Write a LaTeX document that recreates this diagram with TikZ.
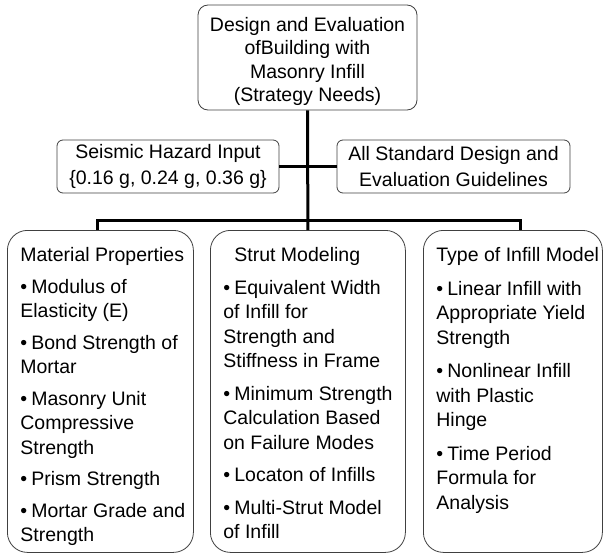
\documentclass[tikz,border=0pt]{standalone}
\usepackage{fontspec}
\setmainfont{Liberation Sans}
\usetikzlibrary{positioning}
\newlength{\colgap}
\newcommand{\bitem}[1]{\par\vspace{\colgap}\noindent\hangindent=11pt\hangafter=1\makebox[11pt][l]{\textbullet}#1}
\newcommand{\colbody}[3]{\parbox[c][322pt][t]{#1}{\raggedright\hbadness=10000\leftskip=13pt
  \fontsize{19.5}{24.5}\selectfont\setlength{\colgap}{#2}\vspace*{17pt}#3}}
\tikzset{
  box/.style={draw=black!75, line width=0.8pt, fill=white, align=center, inner sep=0pt,
    font=\fontsize{19.5}{23.5}\selectfont},
  topbox/.style={box, rounded corners=10pt, minimum width=219pt, minimum height=105pt},
  inbox/.style={box, rounded corners=6pt, minimum height=53pt, font=\fontsize{19.5}{26}\selectfont},
  colbox/.style={box, rounded corners=20pt, anchor=north west, align=left},
  link/.style={line width=3pt, black},
}
\begin{document}
\begin{tikzpicture}[x=1pt, y=-1pt]
  \useasboundingbox (0,0) rectangle (605,554);
  \node[topbox] (top) at (307.5,57.5) {\rule{0pt}{22pt}Design and Evaluation\\ofBuilding with\\Masonry Infill\\(Strategy Needs)};
  \node[inbox, minimum width=222pt] (seis) at (168,166.5) {Seismic Hazard Input\\\{0.16 g, 0.24 g, 0.36 g\}};
  \node[inbox, minimum width=233pt] (std) at (453.5,166.5) {All Standard Design and\\Evaluation Guidelines};
  \node[colbox] (mat) at (7,230) {\colbody{186pt}{7pt}{Material Properties
    \bitem{Modulus of\\Elasticity (E)}
    \bitem{Bond Strength of\\Mortar}
    \bitem{Masonry Unit\\Compressive\\Strength}
    \bitem{Prism Strength}
    \bitem{Mortar Grade and\\Strength}}};
  \node[colbox] (strut) at (210,230) {\colbody{195pt}{8pt}{\hspace*{11pt}Strut Modeling
    \bitem{Equivalent Width\\of Infill for\\Strength and\\Stiffness in Frame}
    \bitem{Minimum Strength\\Calculation Based\\on Failure Modes}
    \bitem{Locaton of Infills}
    \bitem{Multi-Strut Model\\of Infill}}};
  \node[colbox] (type) at (423,230) {\colbody{179pt}{9pt}{Type of Infill Model
    \bitem{Linear Infill with\\Appropriate Yield\\Strength}
    \bitem{Nonlinear Infill\\with Plastic\\Hinge}
    \bitem{Time Period\\Formula for\\Analysis}}};
  \coordinate (bus) at (307.5,220);
  \draw[link] (top.south) -- (strut.north);
  \draw[link] (seis.east) -- (std.west);
  \draw[link] ([xshift=-3pt]mat.north) |- (bus) -| ([xshift=8pt]type.north);
\end{tikzpicture}
\end{document}
